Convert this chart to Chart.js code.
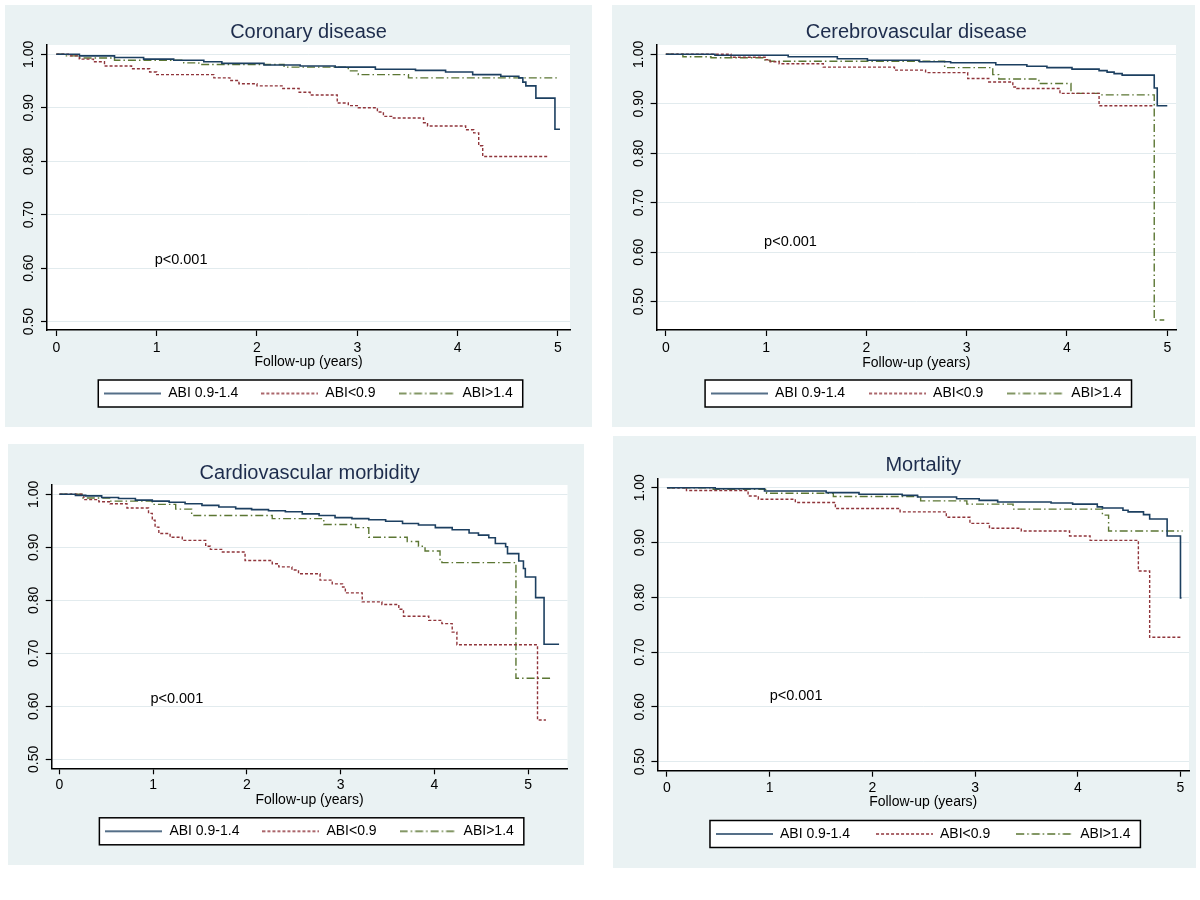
<!DOCTYPE html>
<html>
<head>
<meta charset="utf-8">
<title>ABI survival curves</title>
<script src="https://cdn.jsdelivr.net/npm/chart.js@4.4.1/dist/chart.umd.min.js"></script>
<style>
  html, body { margin: 0; padding: 0; background: #fff; }
  #page { position: relative; width: 1200px; height: 900px; overflow: hidden; }
  .panel { position: absolute; background: #eaf2f3; }
  .panel canvas { display: block; }
</style>
</head>
<body>
<div id="page"></div>
<script>
// legend names and axis ticks
const seriesNames = ['ABI 0.9-1.4', 'ABI<0.9', 'ABI>1.4'];
const xTickValues = [0, 1, 2, 3, 4, 5];
const yTickValues = [0.5, 0.6, 0.7, 0.8, 0.9, 1.0];
const panelTitles = ['Coronary disease', 'Cerebrovascular disease', 'Cardiovascular morbidity', 'Mortality'];
const xAxisTitle = 'Follow-up (years)';
const pValueText = 'p<0.001';
// where the p value sits, in axis units [years, survival]
const pValueAt = [[0.98, 0.615], [0.98, 0.621], [0.97, 0.614], [1.00, 0.620]];

// Kaplan-Meier steps: [years, survival]
const coronaryNormal = [[0,1],[0.23,0.997],[0.58,0.994],[0.87,0.991],[1.17,0.989],[1.47,0.986],[1.65,0.983],[2.07,0.980],[2.43,0.978],[2.78,0.976],[3.18,0.972],[3.58,0.970],[3.88,0.967],[4.15,0.962],[4.43,0.959],[4.61,0.956],[4.65,0.948],[4.68,0.941],[4.78,0.918],[4.97,0.860],[5.02,0.860]];
const coronaryLow = [[0,1],[0.12,0.997],[0.23,0.991],[0.37,0.986],[0.48,0.978],[0.75,0.973],[0.93,0.967],[1.00,0.962],[1.57,0.956],[1.73,0.951],[1.82,0.945],[2.00,0.941],[2.25,0.936],[2.42,0.929],[2.53,0.924],[2.80,0.909],[2.91,0.904],[3.01,0.900],[3.20,0.892],[3.26,0.884],[3.35,0.881],[3.66,0.872],[3.70,0.866],[4.08,0.859],[4.16,0.853],[4.21,0.829],[4.25,0.809],[4.91,0.809]];
const coronaryHigh = [[0,1],[0.10,0.997],[0.23,0.993],[0.58,0.989],[1.27,0.984],[1.42,0.981],[2.27,0.976],[2.91,0.969],[3.01,0.962],[3.51,0.956],[5.01,0.956]];

const cerebroNormal = [[0,1],[0.49,0.998],[1.22,0.995],[1.71,0.991],[2.01,0.988],[2.53,0.985],[2.84,0.983],[3.29,0.979],[3.60,0.976],[3.80,0.973],[4.05,0.970],[4.32,0.967],[4.40,0.964],[4.47,0.961],[4.55,0.958],[4.87,0.932],[4.90,0.896],[5.00,0.896]];
const cerebroLow = [[0,1],[0.65,0.994],[0.99,0.989],[1.04,0.985],[1.13,0.981],[1.57,0.974],[2.28,0.968],[2.59,0.963],[3.01,0.951],[3.22,0.944],[3.46,0.934],[3.50,0.931],[3.93,0.921],[4.32,0.896],[4.86,0.896]];
const cerebroHigh = [[0,1],[0.17,0.995],[0.45,0.993],[0.99,0.988],[1.04,0.986],[2.78,0.973],[3.26,0.959],[3.32,0.950],[3.72,0.941],[4.04,0.921],[4.32,0.918],[4.87,0.463],[4.97,0.463]];

const cardioNormal = [[0,1],[0.17,0.998],[0.28,0.997],[0.45,0.994],[0.63,0.992],[0.81,0.989],[0.99,0.987],[1.17,0.985],[1.34,0.982],[1.52,0.979],[1.70,0.976],[1.88,0.973],[2.05,0.971],[2.23,0.969],[2.41,0.967],[2.59,0.963],[2.77,0.960],[2.94,0.956],[3.12,0.954],[3.30,0.952],[3.48,0.949],[3.66,0.945],[3.83,0.942],[4.01,0.937],[4.19,0.933],[4.37,0.927],[4.47,0.923],[4.58,0.918],[4.65,0.907],[4.76,0.901],[4.78,0.888],[4.90,0.874],[4.95,0.860],[4.97,0.844],[5.08,0.805],[5.17,0.717],[5.33,0.717]];
const cardioLow = [[0,1],[0.26,0.990],[0.42,0.986],[0.54,0.982],[0.72,0.974],[0.95,0.964],[0.99,0.951],[1.02,0.938],[1.06,0.926],[1.18,0.919],[1.31,0.913],[1.56,0.902],[1.61,0.896],[1.73,0.891],[1.98,0.875],[2.27,0.869],[2.34,0.863],[2.48,0.857],[2.55,0.850],[2.78,0.838],[2.91,0.831],[3.02,0.825],[3.05,0.814],[3.23,0.797],[3.44,0.792],[3.62,0.783],[3.67,0.770],[3.94,0.762],[4.08,0.756],[4.19,0.740],[4.24,0.716],[5.10,0.574],[5.19,0.574]];
const cardioHigh = [[0,1],[0.24,0.993],[0.54,0.987],[0.99,0.981],[1.24,0.972],[1.41,0.960],[2.27,0.954],[2.82,0.943],[3.16,0.937],[3.30,0.919],[3.71,0.911],[3.83,0.902],[3.90,0.893],[4.06,0.875],[4.08,0.871],[4.87,0.653],[5.26,0.653]];

const mortalityNormal = [[0,1],[0.47,0.998],[0.95,0.994],[1.55,0.991],[1.87,0.988],[2.29,0.986],[2.44,0.983],[2.82,0.980],[3.04,0.977],[3.22,0.974],[3.74,0.972],[3.95,0.970],[4.19,0.965],[4.24,0.963],[4.44,0.959],[4.49,0.956],[4.64,0.951],[4.70,0.943],[4.87,0.912],[5.00,0.799],[5.01,0.799]];
const mortalityLow = [[0,1],[0.19,0.995],[0.79,0.985],[0.89,0.979],[1.25,0.973],[1.64,0.962],[2.27,0.956],[2.72,0.946],[2.95,0.935],[3.14,0.926],[3.45,0.921],[3.92,0.912],[4.12,0.904],[4.59,0.848],[4.70,0.727],[5.00,0.727]];
const mortalityHigh = [[0,1],[0.45,0.997],[0.97,0.990],[1.62,0.984],[2.47,0.976],[2.92,0.970],[3.37,0.961],[4.24,0.950],[4.30,0.921],[5.02,0.921]];

const panelSeries = [
  [coronaryNormal, coronaryLow, coronaryHigh],
  [cerebroNormal, cerebroLow, cerebroHigh],
  [cardioNormal, cardioLow, cardioHigh],
  [mortalityNormal, mortalityLow, mortalityHigh]
];

// line look per group (stata s2color style)
const lineStyles = [
  { color: '#1c3f60', width: 1.6, dash: [] },
  { color: '#90353b', width: 1.4, dash: [3, 2] },
  { color: '#5b7633', width: 1.4, dash: [8, 3, 1.5, 3] }
];

// panel geometry in page pixels (box = left, top, width, height)
const panelLayout = [
  { box: [5, 5, 587, 422],   xMin: -0.093, xMax: 5.12, yMin: 0.4845, yMax: 1.0174,
    axisW: 42,   padR: 22,   titleY: 27,   plotTop: 40,   plotBottom: 325,   tickOff: 18,   axisTitleOff: 32,   legendY: 387.5, legendPad: 23 },
  { box: [612, 5, 583, 422], xMin: -0.092, xMax: 5.087, yMin: 0.4428, yMax: 1.0188,
    axisW: 44.6, padR: 19,   titleY: 27,   plotTop: 40,   plotBottom: 325,   tickOff: 18.3, axisTitleOff: 32.7, legendY: 387.5, legendPad: 24 },
  { box: [8, 444, 576, 421], xMin: -0.083, xMax: 5.42, yMin: 0.483, yMax: 1.0175,
    axisW: 43.7, padR: 16.5, titleY: 29.7, plotTop: 41,   plotBottom: 324.3, tickOff: 16.7, axisTitleOff: 31.7, legendY: 386.3, legendPad: 23 },
  { box: [613, 436, 583, 432], xMin: -0.093, xMax: 5.083, yMin: 0.4836, yMax: 1.0172,
    axisW: 44.4, padR: 7,    titleY: 29.3, plotTop: 42.3, plotBottom: 334.7, tickOff: 17.3, axisTitleOff: 31,   legendY: 397,   legendPad: 26 }
];

const FONT = '"Liberation Sans", Arial, Helvetica, sans-serif';
const TICK = 6;
const FS = 14;
const TITLE_FS = 20;
const SAMPLE_W = 57;
Chart.defaults.font.family = FONT;
Chart.defaults.color = '#000';

// legend line samples (dashed lines need an image point style)
function lineSample(st) {
  const c = document.createElement('canvas');
  c.width = SAMPLE_W;
  c.height = 4;
  const x = c.getContext('2d');
  x.strokeStyle = st.color;
  x.lineWidth = st.width;
  x.setLineDash(st.dash);
  x.beginPath();
  x.moveTo(0, 2);
  x.lineTo(SAMPLE_W, 2);
  x.stroke();
  return c;
}
const sampleImages = lineStyles.map(lineSample);

// white plot area and the boxed legend
const frameAndBackground = {
  id: 'frameAndBackground',
  beforeDraw(chart) {
    const { ctx, chartArea: a, legend } = chart;
    ctx.save();
    ctx.fillStyle = '#fff';
    ctx.fillRect(a.left, a.top, a.right - a.left, a.bottom - a.top);
    const hb = legend && legend.legendHitBoxes;
    if (hb && hb.length) {
      const left = Math.min(...hb.map(b => b.left)) - 6;
      const right = Math.max(...hb.map(b => b.left + b.width)) + 10;
      const mid = hb[0].top + hb[0].height / 2;
      ctx.fillRect(left, mid - 13.5, right - left, 27);
      ctx.strokeStyle = '#000';
      ctx.lineWidth = 1.5;
      ctx.strokeRect(left, mid - 13.5, right - left, 27);
    }
    ctx.restore();
  }
};

// p value text placed in axis units
const pValueLabel = {
  id: 'pValueLabel',
  afterDatasetsDraw(chart, args, opts) {
    const { ctx, scales } = chart;
    ctx.save();
    ctx.font = '14.5px ' + FONT;
    ctx.fillStyle = '#000';
    ctx.textAlign = 'left';
    ctx.textBaseline = 'middle';
    ctx.fillText(opts.text, scales.x.getPixelForValue(opts.at[0]), scales.y.getPixelForValue(opts.at[1]));
    ctx.restore();
  }
};

// width of the widest y label, used to center rotated labels
const measure = document.createElement('canvas').getContext('2d');
measure.font = FS + 'px ' + FONT;
const yLabelW = measure.measureText('1.00').width;

const page = document.getElementById('page');

panelLayout.forEach((g, i) => {
  const div = document.createElement('div');
  div.className = 'panel';
  div.style.left = g.box[0] + 'px';
  div.style.top = g.box[1] + 'px';
  div.style.width = g.box[2] + 'px';
  div.style.height = g.box[3] + 'px';
  const canvas = document.createElement('canvas');
  canvas.width = g.box[2];
  canvas.height = g.box[3];
  div.appendChild(canvas);
  page.appendChild(div);

  // chart.js bottom legend: height = padding + row + 10, row sits one padding down
  const legendTop = g.legendY - g.legendPad - 6;
  const legendBottom = g.legendY + 18;
  const xAxisH = legendTop - g.plotBottom;
  const titleLH = TITLE_FS * 1.2;
  const lh = FS * 1.2;

  const datasets = panelSeries[i].map((pts, k) => ({
    label: seriesNames[k],
    data: pts.map(([t, s]) => ({ x: t, y: s })),
    borderColor: lineStyles[k].color,
    backgroundColor: lineStyles[k].color,
    borderWidth: lineStyles[k].width,
    borderDash: lineStyles[k].dash,
    stepped: true,
    pointRadius: 0,
    pointHoverRadius: 0,
    pointStyle: sampleImages[k],
    fill: false
  }));

  new Chart(canvas.getContext('2d'), {
    type: 'line',
    data: { datasets },
    plugins: [frameAndBackground, pValueLabel],
    options: {
      responsive: false,
      animation: false,
      events: [],
      layout: {
        padding: { top: 0, left: 0, right: g.padR, bottom: g.box[3] - legendBottom }
      },
      plugins: {
        title: {
          display: true,
          text: panelTitles[i],
          fullSize: false,
          color: '#1d2c4c',
          font: { size: TITLE_FS, weight: 'normal', lineHeight: 1.2 },
          padding: { top: g.titleY - titleLH / 2, bottom: g.plotTop - g.titleY - titleLH / 2 }
        },
        legend: {
          display: true,
          position: 'bottom',
          fullSize: false,
          labels: {
            usePointStyle: true,
            pointStyleWidth: SAMPLE_W,
            boxHeight: FS,
            padding: g.legendPad,
            color: '#000',
            font: { size: FS }
          }
        },
        tooltip: { enabled: false },
        pValueLabel: { text: pValueText, at: pValueAt[i] }
      },
      scales: {
        x: {
          type: 'linear',
          min: g.xMin,
          max: g.xMax,
          afterBuildTicks: s => { s.ticks = xTickValues.map(v => ({ value: v })); },
          afterFit: s => { s.height = xAxisH; },
          ticks: { font: { size: FS }, color: '#000', padding: g.tickOff - TICK - lh / 2, maxRotation: 0, autoSkip: false },
          grid: { drawOnChartArea: false, tickColor: '#000', tickLength: TICK, tickWidth: 1.2 },
          border: { color: '#000', width: 1.5 },
          title: {
            display: true,
            text: xAxisTitle,
            color: '#000',
            font: { size: FS },
            padding: { top: 0, bottom: xAxisH - g.axisTitleOff - lh / 2 }
          }
        },
        y: {
          type: 'linear',
          min: g.yMin,
          max: g.yMax,
          afterBuildTicks: s => { s.ticks = yTickValues.map(v => ({ value: v })); },
          afterFit: s => { s.width = g.axisW; },
          ticks: {
            callback: v => v.toFixed(2),
            font: { size: FS },
            color: '#000',
            minRotation: 90,
            maxRotation: 90,
            crossAlign: 'center',
            autoSkip: false,
            padding: 17.5 - TICK - yLabelW / 2
          },
          grid: { color: '#e2ebee', lineWidth: 1, tickColor: '#000', tickLength: TICK, tickWidth: 1.2 },
          border: { color: '#000', width: 1.5 }
        }
      }
    }
  });
});
</script>
</body>
</html>
